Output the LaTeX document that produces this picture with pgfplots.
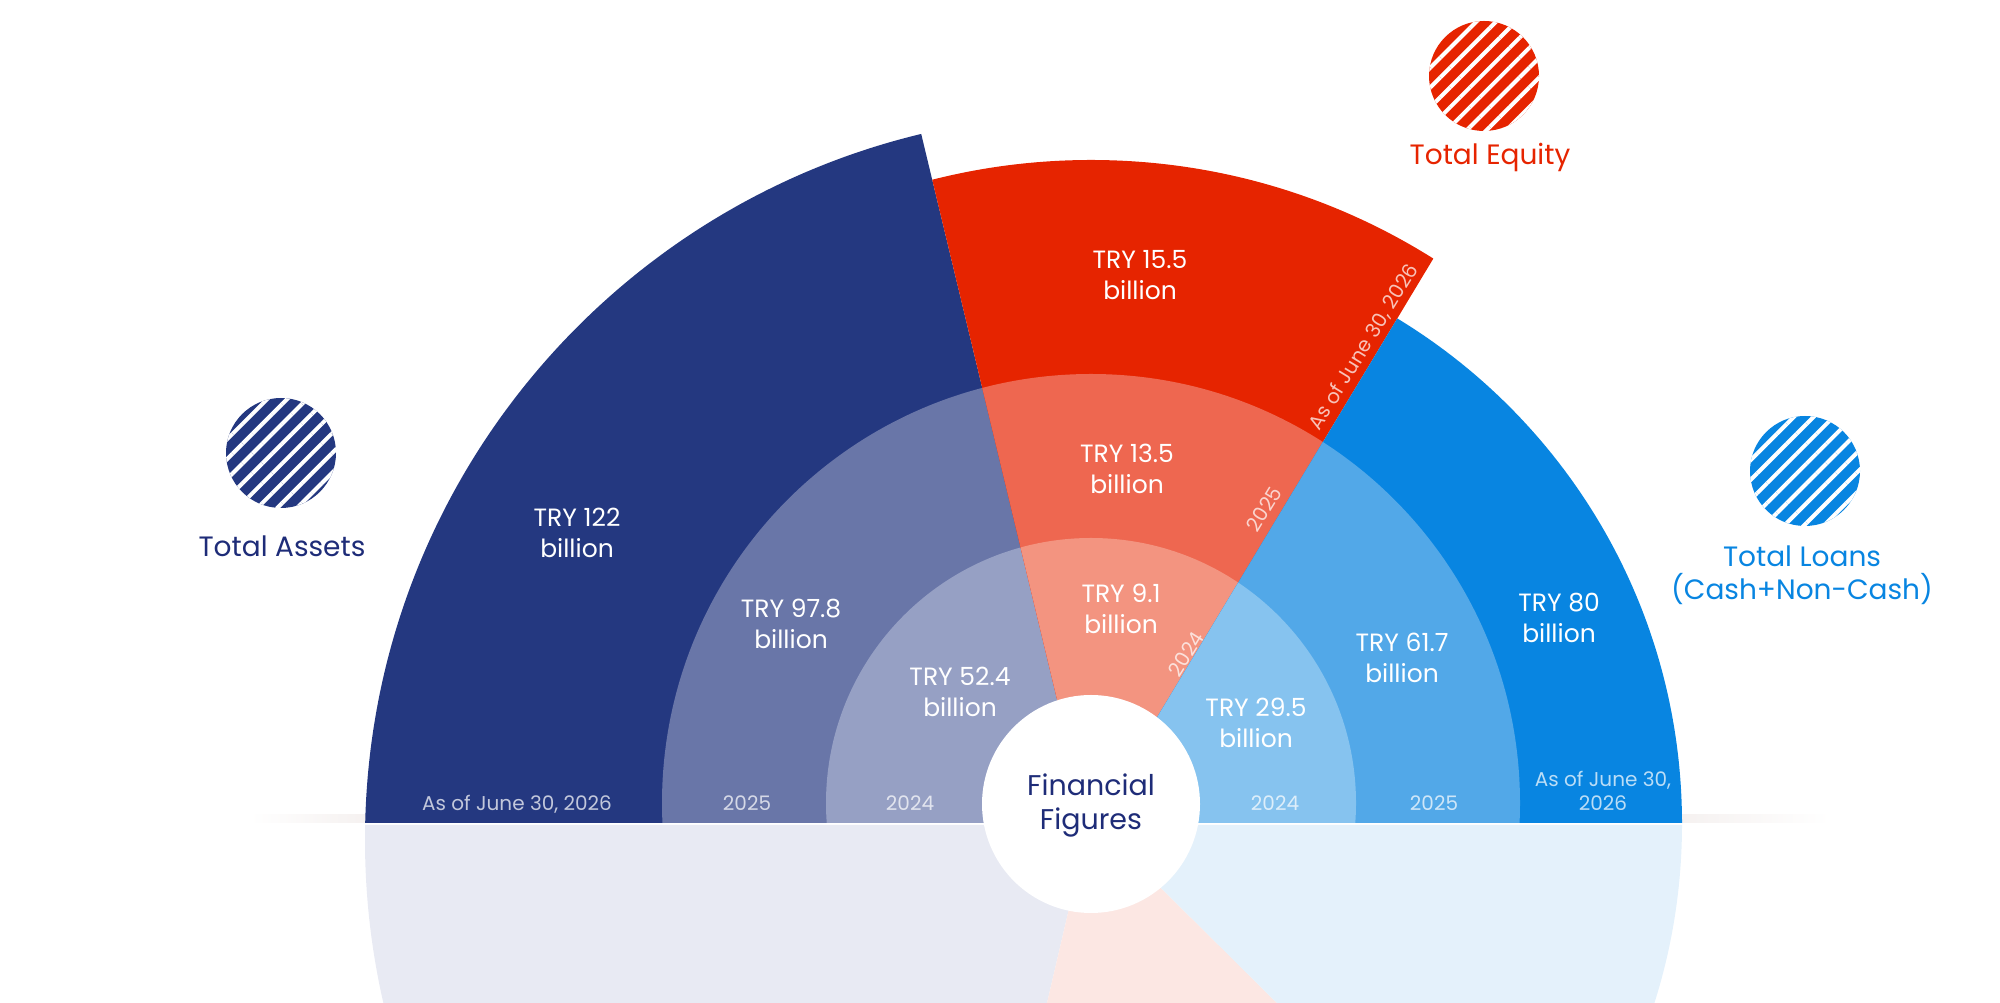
\documentclass[border=0pt]{standalone}
\usepackage{fontspec}
\setmainfont{Poppins}
\usepackage{pgfplots}
\pgfplotsset{compat=1.18}
\usepackage{pgfplotstable}
\usetikzlibrary{patterns.meta}

\definecolor{aA}{RGB}{36,56,128}
\definecolor{aB}{RGB}{105,118,168}
\definecolor{aC}{RGB}{150,160,196}
\definecolor{eA}{RGB}{230,36,0}
\definecolor{eB}{RGB}{238,103,80}
\definecolor{eC}{RGB}{243,148,128}
\definecolor{lA}{RGB}{8,133,225}
\definecolor{lB}{RGB}{82,168,232}
\definecolor{lC}{RGB}{134,195,239}
\definecolor{aL}{RGB}{232,234,243}
\definecolor{eL}{RGB}{252,231,227}
\definecolor{lL}{RGB}{228,241,251}
\definecolor{navytxt}{RGB}{30,44,120}
\definecolor{shadowc}{RGB}{245,241,240}

% value labels: position of label centre (axis units, centre of the chart at 0,0) and value in TRY billion
\pgfplotstableread{
x y v
-514 270 122
-300 179 97.8
-131 111 52.4
49 528 15.5
36 334 13.5
30 194 9.1
165 80 29.5
311 145 61.7
468 185 80
}\valtable

\begin{document}
\begin{tikzpicture}
\begin{axis}[x=1pt,y=1pt,xmin=-1091,xmax=909,ymin=-200,ymax=803,
  hide axis, clip=false]
\coordinate (bl) at (axis cs:-1091,-200);
\coordinate (tr) at (axis cs:909,803);

% baseline shadow
\shade[left color=white, right color=shadowc] (axis cs:-841,-20) rectangle (axis cs:-724,-12);
\shade[left color=shadowc, right color=white] (axis cs:590,-20) rectangle (axis cs:739,-12);

% ---------- upper half ----------
% Total Assets
\begin{scope}
\clip (axis cs:-1091,-20) -- (axis cs:-4.2,-20) -- (axis cs:-202,803) -- (axis cs:-1091,803) -- cycle;
\fill[aA] (axis cs:0,-37) circle[radius=726pt];
\fill[aB] (axis cs:0,0) circle[radius=429pt];
\fill[aC] (axis cs:0,0) circle[radius=265pt];
\end{scope}
% Total Equity
\begin{scope}
\clip (axis cs:-4.2,-20) -- (axis cs:2.5,-20) -- (axis cs:498,803) -- (axis cs:-202,803) -- cycle;
\fill[eA] (axis cs:0,0) circle[radius=643pt];
\fill[eB] (axis cs:0,0) circle[radius=429pt];
\fill[eC] (axis cs:0,0) circle[radius=265pt];
\end{scope}
% Total Loans
\begin{scope}
\clip (axis cs:2.5,-20) -- (axis cs:909,-20) -- (axis cs:909,803) -- (axis cs:498,803) -- cycle;
\fill[lA] (axis cs:0,-21) circle[radius=591pt];
\fill[lB] (axis cs:0,0) circle[radius=429pt];
\fill[lC] (axis cs:0,0) circle[radius=265pt];
\end{scope}

% ---------- lower (faded) half ----------
\begin{scope}
\clip (axis cs:-1091,-22) -- (axis cs:-2.5,-22) -- (axis cs:-44,-200) -- (axis cs:-1091,-200) -- cycle;
\fill[aL] (axis cs:0,-37) circle[radius=726pt];
\end{scope}
\fill[eL] (axis cs:-2.5,-22) -- (axis cs:6.4,-22) -- (axis cs:186,-200) -- (axis cs:-44,-200) -- cycle;
\begin{scope}
\clip (axis cs:6.4,-22) -- (axis cs:909,-22) -- (axis cs:909,-200) -- (axis cs:186,-200) -- cycle;
\fill[lL] (axis cs:0,-21) circle[radius=591pt];
\end{scope}

% centre disc
\fill[white] (axis cs:0,-1) circle[radius=109pt];
\node[anchor=base, text=navytxt, font=\fontsize{28.5}{34}\selectfont] at (axis cs:0,7) {Financial};
\node[anchor=base, text=navytxt, font=\fontsize{28.5}{34}\selectfont] at (axis cs:0,-27) {Figures};

% value labels
\addplot[draw=none, mark=none, point meta=explicit symbolic,
  nodes near coords={TRY \pgfplotspointmeta\\billion},
  every node near coord/.append style={anchor=center, align=center, text=white,
    font=\fontsize{25}{31}\selectfont, inner sep=0pt}]
  table[x=x, y=y, meta=v] {\valtable};

% year labels
\tikzset{yr/.style={anchor=base, text=white, text opacity=0.72, font=\fontsize{20}{24}\selectfont}}
\node[yr] at (axis cs:-574,-8) {As of June 30, 2026};
\node[yr] at (axis cs:-344,-8) {2025};
\node[yr] at (axis cs:-181,-8) {2024};
\node[yr] at (axis cs:184,-8) {2024};
\node[yr] at (axis cs:343,-8) {2025};
\node[yr] at (axis cs:512,16) {As of June 30,};
\node[yr] at (axis cs:512,-8) {2026};
\node[yr, anchor=center, rotate=58.5] at (axis cs:273,456) {As of June 30, 2026};
\node[yr, anchor=center, rotate=58.5] at (axis cs:173,294) {2025};
\node[yr, anchor=center, rotate=58.5] at (axis cs:95,149) {2024};

% icons
\fill[aA] (axis cs:-810,350) circle[radius=55pt];
\fill[pattern={Lines[angle=45,distance=14pt,line width=4pt]}, pattern color=white] (axis cs:-810,350) circle[radius=55pt];
\fill[eA] (axis cs:393,727) circle[radius=55pt];
\fill[pattern={Lines[angle=45,distance=14pt,line width=4pt]}, pattern color=white] (axis cs:393,727) circle[radius=55pt];
\fill[lA] (axis cs:714,332) circle[radius=55pt];
\fill[pattern={Lines[angle=45,distance=14pt,line width=4pt]}, pattern color=white] (axis cs:714,332) circle[radius=55pt];

% category labels
\tikzset{cat/.style={anchor=base, font=\fontsize{28}{34}\selectfont}}
\node[cat, text=navytxt] at (axis cs:-809,246) {Total Assets};
\node[cat, text=eA] at (axis cs:399,638) {Total Equity};
\node[cat, text=lA] at (axis cs:711,236) {Total Loans};
\node[cat, text=lA] at (axis cs:711,203) {(Cash+Non-Cash)};
\end{axis}
\pgfresetboundingbox
\path[use as bounding box] (bl) rectangle (tr);
\end{tikzpicture}
\end{document}
